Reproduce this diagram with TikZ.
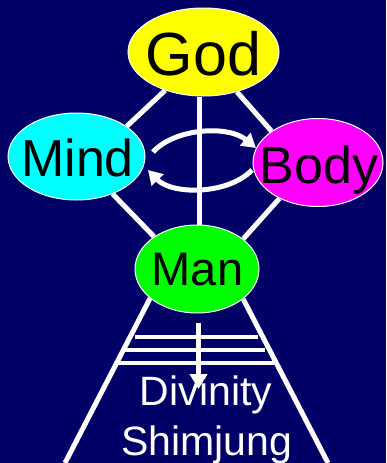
\documentclass[tikz,border=0pt]{standalone}
\usepackage{fontspec}
\setmainfont{Liberation Sans}
\usetikzlibrary{arrows.meta,shapes.geometric}
\pgfdeclarelayer{bg}
\pgfdeclarelayer{lines}
\pgfsetlayers{bg,lines,main}
\definecolor{navy}{RGB}{0,0,102}
\definecolor{cGod}{RGB}{255,255,0}
\definecolor{cMind}{RGB}{0,255,255}
\definecolor{cBody}{RGB}{255,0,255}
\definecolor{cMan}{RGB}{0,255,0}
\tikzset{
  ell/.style={ellipse, draw=white, line width=1pt, inner sep=0pt},
  lbl/.style={inner sep=0pt, text depth=0pt, anchor=center},
  wline/.style={draw=white, line width=5pt},
  hline/.style={draw=white, line width=4.5pt},
  arc/.style={draw=white, line width=5pt, -{Triangle[length=14pt,width=16pt]}},
  downarr/.style={draw=white, line width=5pt, -{Triangle[length=15pt,width=17pt]}}
}
\begin{document}
\begin{tikzpicture}[x=1pt,y=-1pt]
\begin{pgfonlayer}{bg}
\fill[navy] (0,0) rectangle (386,463);
\end{pgfonlayer}
\useasboundingbox (0,0) rectangle (386,463);
% ellipses
\node[ell, fill=cGod, minimum width=151pt, minimum height=88pt] (God) at (203.5,52) {};
\node[ell, fill=cMind, minimum width=137pt, minimum height=87pt] (Mind) at (76.5,156.5) {};
\node[ell, fill=cBody, minimum width=130pt, minimum height=88pt] (Body) at (318,162.5) {};
\node[ell, fill=cMan, minimum width=124pt, minimum height=88pt] (Man) at (197,269) {};
% labels
\node[lbl, text height=43.7pt, font=\fontsize{61}{61}\selectfont] (GodT) at (203.5,54) {God};
\node[lbl, text height=37.2pt, font=\fontsize{52}{52}\selectfont] (MindT) at (77.5,157.5) {Mind};
\node[lbl, text height=37.2pt, font=\fontsize{52}{52}\selectfont] (BodyT) at (319,164.5) {Body};
\node[lbl, text height=33.7pt, font=\fontsize{47}{47}\selectfont] (ManT) at (197.5,269) {Man};
\node[lbl, text height=29.4pt, text=white, font=\fontsize{41}{41}\selectfont] (Div) at (206,391) {Divinity};
\node[lbl, text height=29.4pt, text=white, font=\fontsize{41}{41}\selectfont] (Shim) at (206.5,441) {Shimjung};
% coordinates
\coordinate (LB) at (65,463);
\coordinate (RB) at (328,463);
\coordinate (h1l) at (135,337); \coordinate (h1r) at (258,337);
\coordinate (h2l) at (125,350); \coordinate (h2r) at (265,350);
\coordinate (h3l) at (118,363); \coordinate (h3r) at (276,363);
\coordinate (vs) at (198.5,323);
\coordinate (vt) at (198.5,389);
\coordinate (a1s) at (153,152); \coordinate (a1e) at (256,148);
\coordinate (a2s) at (252,170); \coordinate (a2e) at (148,170);
% connecting lines behind ellipses
\begin{pgfonlayer}{lines}
\draw[wline] (God.225) -- (Mind.31);
\draw[wline] (God.310) -- (Body.146);
\draw[wline] (Mind.314) -- (Man.143);
\draw[wline] (Body.223) -- (Man.33);
\draw[wline] ([xshift=-4.5pt]God.south) -- ([xshift=2pt]Man.north);
\draw[wline] (Man.212) -- (LB);
\draw[wline] (Man.327) -- (RB);
\end{pgfonlayer}
% arcs
\draw[arc] (a1s) .. controls (175,128) and (228,125) .. (a1e);
\draw[arc] (a2s) .. controls (228,195) and (172,195) .. (a2e);
% rungs
\draw[hline] (h1l) -- (h1r);
\draw[hline] (h2l) -- (h2r);
\draw[hline] (h3l) -- (h3r);
\draw[downarr] (vs) -- (vt);
\end{tikzpicture}
\end{document}
